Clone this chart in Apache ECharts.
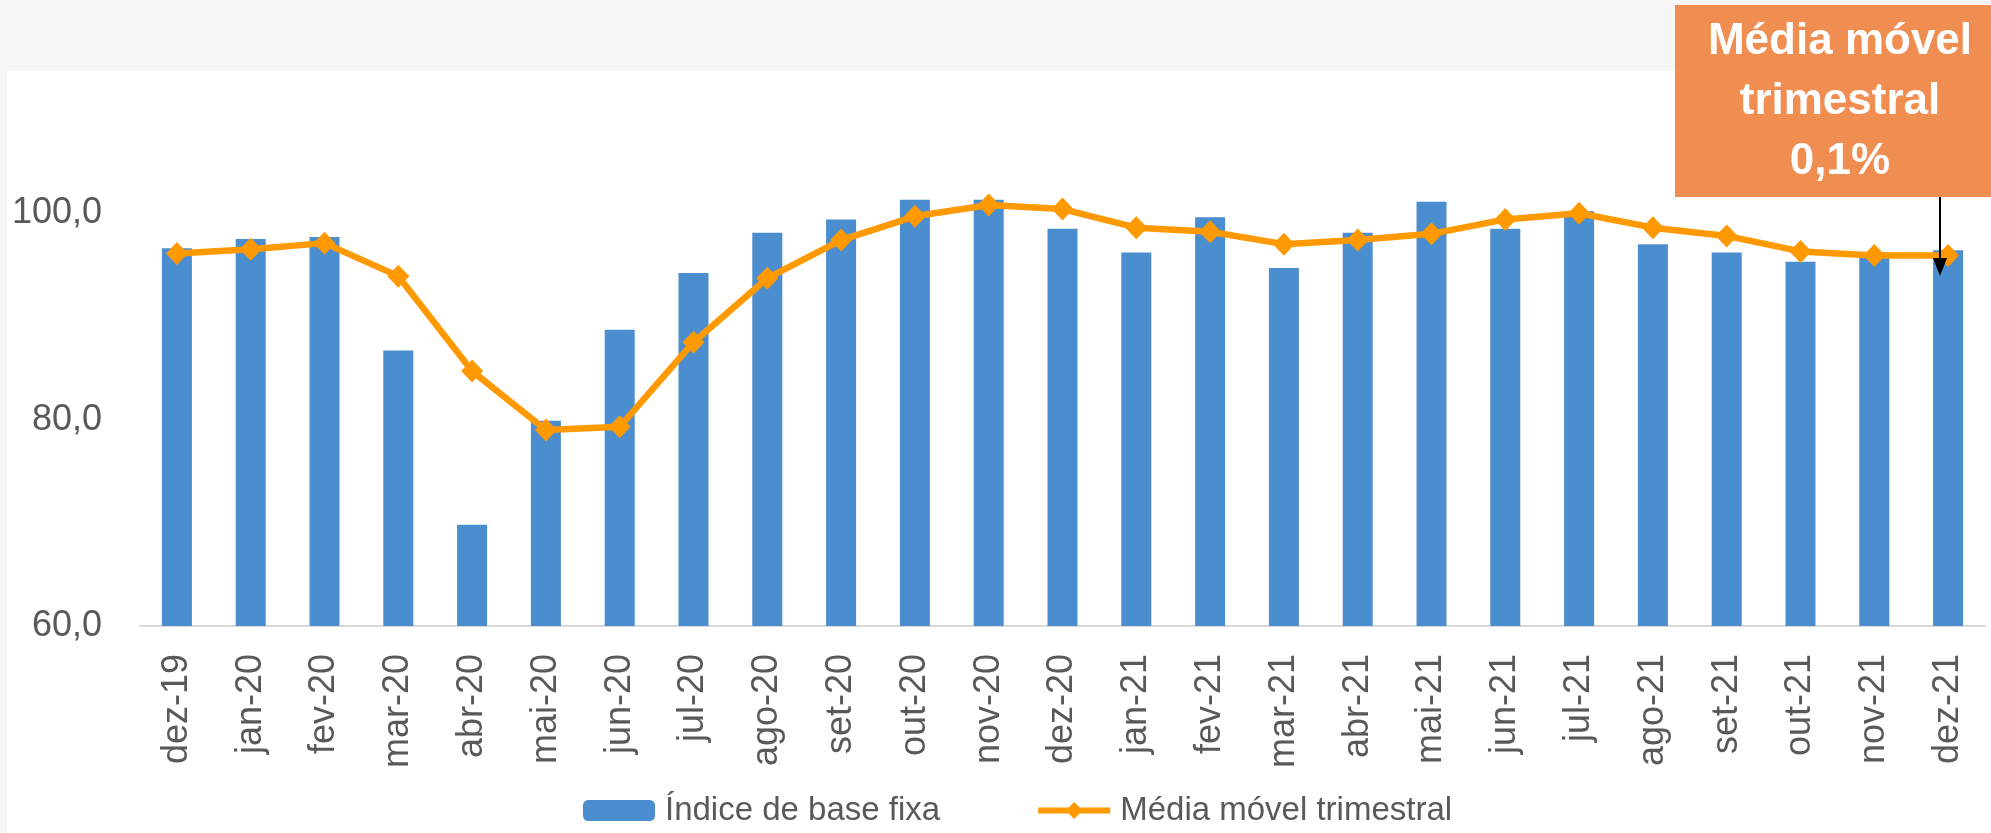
<!DOCTYPE html>
<html>
<head>
    <meta charset="utf-8">
    <title>Índice de base fixa</title>
    <script src="https://cdn.jsdelivr.net/npm/echarts@6/dist/echarts.min.js"></script>
    <style>
        body { margin: 0; padding: 0; background: #f7f7f7; }
        #main { width: 1991px; height: 833px; }
    </style>
</head>
<body>
<div id="main"></div>
<script type="text/javascript">
    // categorias (meses)
    let meses = ['dez-19', 'jan-20', 'fev-20', 'mar-20', 'abr-20', 'mai-20', 'jun-20', 'jul-20', 'ago-20',
        'set-20', 'out-20', 'nov-20', 'dez-20', 'jan-21', 'fev-21', 'mar-21', 'abr-21', 'mai-21',
        'jun-21', 'jul-21', 'ago-21', 'set-21', 'out-21', 'nov-21', 'dez-21']
    // índice de base fixa (barras)
    let indiceBaseFixa = [96.6, 97.5, 97.7, 86.7, 69.8, 79.9, 88.7, 94.2, 98.1, 99.4, 101.3, 101.3, 98.5,
        96.2, 99.6, 94.7, 98.1, 101.1, 98.5, 100.2, 97.0, 96.2, 95.3, 96.2, 96.4]
    // média móvel trimestral (linha)
    let mediaMovel = [96.1, 96.5, 97.1, 93.9, 84.7, 79.0, 79.3, 87.5, 93.7, 97.4, 99.7, 100.8, 100.4,
        98.6, 98.2, 97.0, 97.4, 98.0, 99.4, 100.0, 98.6, 97.8, 96.3, 95.9, 95.9]
    // eixo y
    let eixoMin = 60
    let eixoMax = 110
    let eixoPasso = 20

    let myChart = echarts.init(document.getElementById('main'))
    let option = {
        animation: false,
        backgroundColor: 'transparent',
        grid: {
            left: 140,
            right: 6,
            top: 110,
            bottom: 207
        },
        legend: {
            left: 578,
            top: 789,
            itemWidth: 72,
            itemHeight: 21,
            itemGap: 95,
            lineStyle: { width: 6 },
            textStyle: {
                fontFamily: 'Liberation Sans',
                fontSize: 33,
                color: '#595959',
                padding: [0, 0, 0, 5]
            },
            data: ['Índice de base fixa', 'Média móvel trimestral']
        },
        xAxis: {
            type: 'category',
            data: meses,
            axisLine: { lineStyle: { color: '#d9d9d9', width: 2 } },
            axisTick: { show: false },
            axisLabel: {
                rotate: 90,
                interval: 0,
                margin: 28,
                fontFamily: 'Liberation Sans',
                fontSize: 36,
                color: '#595959'
            }
        },
        yAxis: {
            type: 'value',
            min: eixoMin,
            max: eixoMax,
            interval: eixoPasso,
            splitLine: { show: false },
            axisLine: { show: false },
            axisTick: { show: false },
            axisLabel: {
                showMaxLabel: false,
                margin: 38,
                fontFamily: 'Liberation Sans',
                fontSize: 36,
                color: '#595959',
                formatter: (v) => v.toFixed(1).replace('.', ',')
            }
        },
        series: [
            {
                name: 'Índice de base fixa',
                type: 'bar',
                data: indiceBaseFixa,
                barWidth: 30,
                itemStyle: { color: '#4a8ecf' }
            },
            {
                name: 'Média móvel trimestral',
                type: 'line',
                data: mediaMovel,
                symbol: 'diamond',
                symbolSize: [22, 23],
                lineStyle: { width: 6.5, color: '#ff9900' },
                itemStyle: { color: '#ff9900' },
                z: 3
            }
        ],
        graphic: [
            // fundo branco da área do gráfico
            {
                type: 'rect',
                z: -10,
                shape: { x: 7, y: 71, width: 1984, height: 762 },
                style: { fill: '#ffffff' }
            },
            // caixa de anotação
            {
                type: 'rect',
                z: 100,
                shape: { x: 1675, y: 5, width: 316, height: 192 },
                style: { fill: '#f08d50' }
            },
            {
                type: 'text',
                z: 101,
                x: 1840,
                y: 102,
                style: {
                    text: 'Média móvel\ntrimestral\n0,1%',
                    fill: '#ffffff',
                    font: 'bold 44px "Liberation Sans"',
                    lineHeight: 60,
                    align: 'center',
                    verticalAlign: 'middle'
                }
            },
            // seta
            {
                type: 'line',
                z: 101,
                shape: { x1: 1940, y1: 197, x2: 1940, y2: 262 },
                style: { stroke: '#000000', lineWidth: 2 }
            },
            {
                type: 'polygon',
                z: 101,
                shape: { points: [[1933, 258], [1947, 258], [1940, 276]] },
                style: { fill: '#000000' }
            }
        ]
    }
    myChart.setOption(option)
</script>
</body>
</html>
